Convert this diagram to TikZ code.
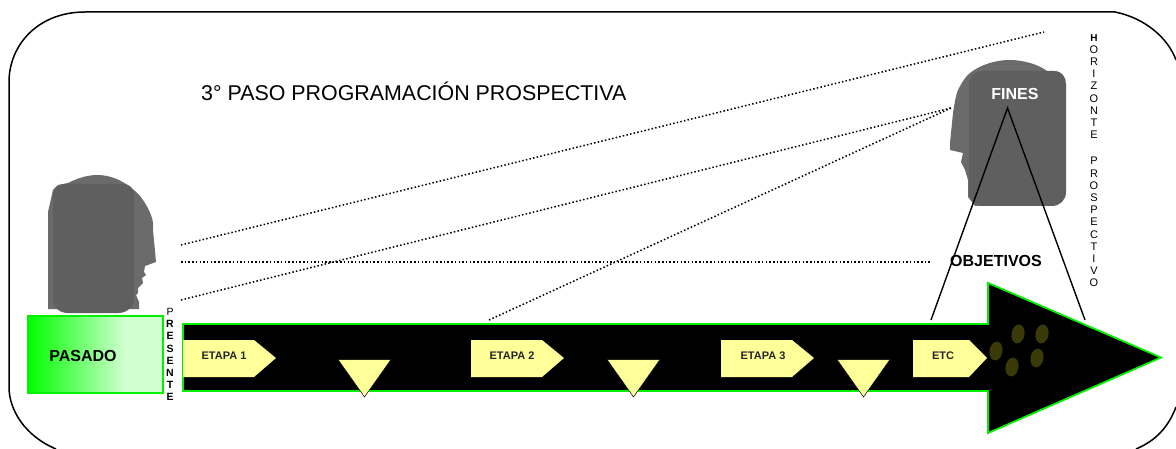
\documentclass[tikz,border=0pt]{standalone}
\usepackage{fontspec}
\setmainfont{Liberation Sans}
\usetikzlibrary{calc}
\definecolor{headA}{HTML}{6B6B6B}
\definecolor{headB}{HTML}{5F5F5F}
\definecolor{grn}{HTML}{00F000}
\definecolor{gfull}{HTML}{00FF00}
\definecolor{gpale}{HTML}{D0FFD0}
\definecolor{yel}{HTML}{FFFF99}
\definecolor{seed}{HTML}{3A3A08}
\newcommand{\seedat}[2]{\fill[seedst,rotate around={-10:(#1,#2)}] (#1,#2) ellipse [x radius=6.5,y radius=9.5];}
\tikzset{
 x=1pt,y=-1pt,
 dots/.style={line width=1.5pt,dash pattern=on 1.5pt off 2.2pt},
 solidl/.style={line width=1.4pt},
 tag/.style={fill=yel,draw=none},
 tagtxt/.style={font=\bfseries\fontsize{11}{13}\selectfont,inner sep=0pt,text=black!85},
 tri/.style={fill=yel,draw=black,line width=.5pt},
 vert/.style={font=\fontsize{11}{12.2}\selectfont,align=center,inner sep=0pt,anchor=north},
 seedst/.style={fill=seed,draw=none},
 big/.style={font=\bfseries\fontsize{16}{18}\selectfont,inner sep=0pt}
}
\begin{document}
\begin{tikzpicture}
\useasboundingbox (0,0) rectangle (1176,449);
\fill[white] (0,0) rectangle (1176,449);
% frame
\draw[line width=1.5pt] (56,449) .. controls (25,436) and (9,410) .. (9,387) -- (9,82) .. controls (9,45) and (38,12) .. (85,12) -- (1115,12) .. controls (1145,18) and (1168,38) .. (1176,60);
\draw[line width=1.5pt] (1176,407) .. controls (1168,428) and (1155,441) .. (1136,449);
% left head
\fill[headA] (48,309) -- (48,212) -- (53,190) -- (58,185) -- (68,183)
  .. controls (74,180) and (85,175) .. (97,175)
  .. controls (115,175) and (130,185) .. (140,196)
  .. controls (147,205) and (152,215) .. (153,223)
  -- (153,230) -- (156,262) -- (145,266) -- (144,272) -- (146,275) -- (142,278) -- (143,283) -- (138,288) -- (138,293) -- (136,295) -- (139,302) -- (139,309) -- cycle;
\fill[headB] (53,196) .. controls (53,188) and (58,184) .. (66,184) -- (122,184) .. controls (130,184) and (134,188) .. (134,196) -- (134,298) .. controls (134,306) and (128,313) .. (118,313) -- (68,313) .. controls (58,313) and (53,306) .. (53,298) -- cycle;
% right head
\fill[headA] (975,206) -- (968,197) -- (968,180) -- (965,170) -- (961,162) -- (963,153) -- (950,150) -- (950,143) -- (953,113)
  .. controls (955,100) and (956,95) .. (958,90)
  .. controls (962,82) and (966,76) .. (970,73)
  .. controls (980,65) and (995,60) .. (1010,60)
  .. controls (1022,60) and (1038,64) .. (1047,71)
  -- (1050,72) -- (1050,206) -- cycle;
\fill[headB] (969,84) .. controls (969,76) and (976,71) .. (984,71) -- (1054,71) .. controls (1062,71) and (1066,77) .. (1066,84) -- (1066,192) .. controls (1066,200) and (1060,206) .. (1052,206) -- (984,206) .. controls (976,206) and (969,200) .. (969,192) -- cycle;
% dotted
\coordinate (d1a) at (181,245); \coordinate (d1b) at (1044,32);
\coordinate (d2a) at (181,262); \coordinate (d2b) at (931,262);
\coordinate (d3a) at (181,300); \coordinate (d3b) at (951,108);
\coordinate (d4a) at (489,320);
\draw[dots] (d1a) -- (d1b);
\draw[dots] (d2a) -- (d2b);
\draw[dots] (d3a) -- (d3b);
\draw[dots] (d4a) -- (d3b);
% big arrow
\draw[draw=grn,line width=1.8pt,fill=black,miter limit=10] (183,324) -- (988,324) -- (988,283) -- (1161,357.5) -- (988,433) -- (988,391) -- (183,391) -- cycle;
% pasado
\shade[left color=gfull,right color=gpale] (28,316) rectangle (125,393);
\fill[gpale] (125,316) rectangle (163,393);
\draw[draw=grn,line width=1.4pt] (28,316) rectangle (163,393);
\node[big] (pasado) at (83,356) {PASADO};
% tags
\fill[tag] (183,340) -- (254,340) -- (276,358) -- (254,377) -- (183,377) -- cycle;
\node[tagtxt] (e1) at (224,356) {ETAPA 1};
\fill[tag] (471,340) -- (542,340) -- (564,358) -- (542,377) -- (471,377) -- cycle;
\node[tagtxt] (e2) at (512,356) {ETAPA 2};
\fill[tag] (721,340) -- (792,340) -- (814,358) -- (792,377) -- (721,377) -- cycle;
\node[tagtxt] (e3) at (763,356) {ETAPA 3};
\fill[tag] (913,340) -- (969,340) -- (987,358) -- (969,377) -- (913,377) -- cycle;
\node[tagtxt] (e4) at (943,356) {ETC};
% triangles
\draw[tri] (338,359.5) -- (391,359.5) -- (364.5,397) -- cycle;
\draw[tri] (607,359.5) -- (660,359.5) -- (633.5,397) -- cycle;
\draw[tri] (837,359.5) -- (890,359.5) -- (863.5,397) -- cycle;
% seeds
\seedat{996}{351}
\seedat{1018}{334}
\seedat{1042}{334}
\seedat{1012}{367}
\seedat{1037}{358}
% fines lines
\coordinate (apex) at (1007.5,108);
\coordinate (l1) at (931,320);
\coordinate (l2) at (1085,320);
\draw[solidl] (l1) -- (apex) -- (l2);
% texts
\node[font=\fontsize{21.4}{24}\selectfont,inner sep=0pt,anchor=west] (title) at (201,91) {3° PASO PROGRAMACIÓN PROSPECTIVA};
\node[big,text=white] (fines) at (1015,94) {FINES};
\node[big] (obj) at (996,261) {OBJETIVOS};
\node[vert] (hor) at (1094,34) {{\rmfamily\bfseries\fontsize{10}{12.2}\selectfont H}\\O\\R\\I\\Z\\O\\N\\T\\E\\[14pt]P\\R\\O\\S\\P\\E\\C\\T\\I\\V\\O};
\node[vert,font=\bfseries\fontsize{10.5}{12.2}\selectfont] (pres) at (170,308) {{\rmfamily\mdseries P}\\R\\E\\S\\E\\N\\T\\E};
\end{tikzpicture}
\end{document}
